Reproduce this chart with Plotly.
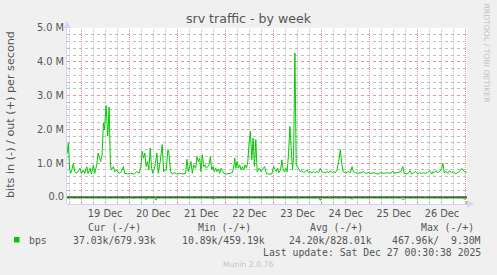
import math
import pandas as pd
import plotly.graph_objects as go

# ---------------- data ----------------
START = "2025-12-18 17:00"
END = "2025-12-27 00:30"

# outgoing traffic (+), hours after START -> Mbit/s
out_points = [
    (0.0, 1.28), (0.67, 1.59), (1.33, 0.80), (1.83, 0.70), (2.67, 0.85), (3.17, 1.00), (3.83, 0.75),
    (4.5, 0.70), (5.5, 0.75), (6.5, 0.85), (7.17, 0.70), (8.17, 0.80), (8.83, 0.70), (9.83, 0.90),
    (10.5, 0.70), (11.5, 0.85), (12.17, 0.68), (13.17, 0.95), (13.83, 0.70), (14.83, 0.95), (15.5, 1.30),
    (16.17, 1.15), (16.83, 1.05), (17.5, 1.25), (18.17, 2.19), (18.67, 2.00), (19.5, 2.70), (20.33, 1.80),
    (21.0, 2.66), (21.67, 0.95), (22.17, 0.80), (23.17, 0.90), (23.83, 0.75), (24.83, 0.80), (26.0, 0.70),
    (27.17, 0.75), (28.17, 0.90), (28.83, 0.70), (30.17, 0.68), (31.83, 0.70), (33.5, 0.68), (34.83, 0.75),
    (36.0, 0.70), (36.83, 0.90), (37.5, 1.35), (38.17, 1.15), (38.83, 1.30), (39.5, 0.90), (40.17, 1.05),
    (40.83, 0.80), (41.5, 1.45), (42.17, 0.85), (42.83, 0.70), (43.83, 0.90), (44.83, 1.30), (45.5, 0.70),
    (46.5, 1.05), (47.5, 1.55), (48.17, 0.75), (48.83, 0.80), (49.5, 0.80), (50.33, 1.40), (50.83, 1.30),
    (51.67, 0.75), (52.5, 0.68), (53.67, 0.72), (54.83, 0.68), (56.17, 0.70), (57.83, 0.68), (59.17, 0.70),
    (59.83, 1.12), (60.5, 0.75), (61.17, 0.90), (61.83, 1.05), (62.5, 0.70), (63.17, 0.95), (64.17, 0.85),
    (64.83, 1.20), (65.5, 1.05), (66.17, 1.15), (66.83, 0.75), (67.5, 1.25), (68.17, 0.90), (68.83, 0.95),
    (69.5, 0.85), (70.17, 0.90), (70.83, 0.95), (71.5, 1.20), (72.17, 0.80), (72.83, 0.90), (73.5, 0.75),
    (74.17, 0.85), (74.83, 0.75), (75.5, 0.82), (76.17, 0.70), (76.83, 0.85), (77.5, 0.75), (78.17, 0.70),
    (79.5, 0.68), (81.17, 0.70), (82.5, 0.72), (83.17, 0.90), (83.67, 1.15), (84.17, 0.85), (84.83, 1.05),
    (85.5, 0.85), (86.17, 0.95), (86.83, 0.80), (87.5, 0.90), (88.17, 0.80), (88.83, 0.95), (89.5, 0.85),
    (90.17, 1.05), (90.83, 1.60), (91.5, 1.94), (92.17, 1.10), (92.83, 1.74), (93.5, 0.90), (94.17, 1.70),
    (94.83, 0.75), (95.83, 0.85), (96.83, 0.75), (97.83, 0.85), (98.5, 0.90), (99.17, 0.75), (99.83, 0.68),
    (101.17, 0.68), (102.17, 0.68), (103.0, 0.90), (103.67, 0.80), (104.33, 0.75), (105.0, 0.85),
    (105.67, 0.72), (106.5, 0.80), (107.17, 1.10), (107.83, 0.80), (108.5, 0.75), (109.17, 0.85),
    (109.83, 0.75), (110.5, 1.30), (111.17, 2.09), (111.83, 1.40), (112.5, 0.80), (113.0, 1.20),
    (113.67, 4.26), (114.33, 0.95), (114.83, 0.90), (115.5, 0.80), (116.33, 0.75), (117.17, 0.78),
    (118.0, 0.72), (118.83, 0.75), (119.67, 0.80), (120.5, 0.72), (121.33, 0.75), (122.17, 0.72),
    (123.0, 0.75), (123.83, 0.72), (124.67, 0.75), (125.5, 0.72), (126.33, 0.85), (127.17, 0.75),
    (128.0, 0.72), (128.83, 0.72), (129.67, 0.75), (130.5, 0.72), (131.33, 0.78), (132.17, 0.72),
    (133.0, 0.75), (133.83, 0.72), (134.67, 0.80), (135.5, 1.05), (136.33, 1.40), (137.0, 1.00),
    (137.67, 0.75), (138.83, 0.72), (140.5, 0.75), (141.33, 0.72), (142.17, 0.90), (142.83, 0.75),
    (143.83, 0.72), (145.5, 0.70), (147.17, 0.72), (148.0, 0.75), (148.83, 0.70), (150.5, 0.72),
    (151.5, 0.70), (153.17, 0.72), (154.83, 0.68), (156.5, 0.72), (158.17, 0.70), (159.83, 0.72),
    (161.5, 0.70), (162.5, 0.77), (163.17, 0.70), (164.83, 0.72), (166.5, 0.75), (167.5, 0.90),
    (168.17, 0.70), (169.17, 0.68), (170.17, 0.70), (171.17, 0.78), (171.83, 0.68), (172.83, 0.72),
    (173.83, 0.75), (174.83, 0.68), (175.83, 0.72), (176.83, 0.70), (177.83, 0.72), (178.83, 0.70),
    (179.83, 0.72), (180.83, 0.78), (181.83, 0.68), (182.5, 0.75), (183.17, 0.72), (184.17, 0.78),
    (184.83, 0.72), (185.83, 0.75), (186.83, 0.85), (187.5, 1.00), (188.17, 0.72), (189.17, 0.75),
    (189.83, 0.70), (190.83, 0.78), (191.83, 0.72), (192.83, 0.75), (193.83, 0.68), (194.83, 0.72),
    (195.83, 0.75), (196.83, 0.85), (197.5, 0.78), (198.17, 0.75), (199.33, 0.72),
]

# incoming traffic (-), hours after START -> Mbit/s (drawn negative)
in_points = [
    (0, -0.03), (1.3, -0.03), (1.8, -0.045), (2.3, -0.03), (4.2, -0.03), (4.7, -0.045), (5.2, -0.03),
    (12.5, -0.03), (13.0, -0.05), (13.5, -0.03), (19.7, -0.03), (20.2, -0.06), (20.7, -0.03),
    (27.5, -0.03), (28.0, -0.05), (28.5, -0.03), (32.5, -0.03), (33.0, -0.06), (33.5, -0.03),
    (38.8, -0.03), (39.3, -0.08), (39.8, -0.03), (43.8, -0.03), (44.3, -0.09), (44.8, -0.03),
    (47.5, -0.03), (48.0, -0.05), (48.5, -0.03), (49.8, -0.03), (50.3, -0.05), (50.8, -0.03),
    (72.3, -0.03), (72.8, -0.06), (73.6, -0.05), (74.1, -0.03), (96.5, -0.03), (97.0, -0.06),
    (97.5, -0.03), (115.0, -0.03), (115.5, -0.06), (116.0, -0.03), (125.8, -0.03), (126.3, -0.10),
    (126.8, -0.03), (130.8, -0.03), (131.3, -0.06), (131.8, -0.03), (135.8, -0.03), (136.3, -0.06),
    (136.8, -0.03), (137.5, -0.03), (138.0, -0.05), (138.5, -0.03), (141.7, -0.03), (142.2, -0.07),
    (142.7, -0.03), (166.8, -0.03), (167.3, -0.07), (168.2, -0.06), (168.7, -0.03), (178.3, -0.03),
    (178.8, -0.05), (179.3, -0.03), (186.8, -0.03), (187.3, -0.06), (187.8, -0.03), (189.3, -0.03),
    (189.8, -0.06), (190.3, -0.03), (197.7, -0.03), (198.2, -0.07), (198.7, -0.03), (199.5, -0.04),
]

y_tick_vals = [0, 1, 2, 3, 4, 5]
y_tick_text = ["0.0", "1.0 M", "2.0 M", "3.0 M", "4.0 M", "5.0 M"]
y_minor_vals = [-0.2, 0.2, 0.4, 0.6, 0.8, 1.2, 1.4, 1.6, 1.8, 2.2, 2.4, 2.6, 2.8,
                3.2, 3.4, 3.6, 3.8, 4.2, 4.4, 4.6, 4.8]

legend_headers = ["Cur (-/+)", "Min (-/+)", "Avg (-/+)", "Max (-/+)"]
legend_values = ["37.03k/679.93k", "10.89k/459.19k", "24.20k/828.01k", "467.96k/\u00a0\u00a09.30M"]
series_name = "bps"
last_update = "Last update: Sat Dec 27 00:30:38 2025"

# ---------------- figure ----------------
W, H = 497, 275
L, R, T, B = 67, 467, 28, 204  # plot area in pixels
Y_RANGE = [-0.207, 5.0]

def px(x):
    return (x - L) / (R - L)

def py(y):
    return (B - y) / (B - T)

start = pd.Timestamp(START)
end = pd.Timestamp(END)
out_x = [start + pd.Timedelta(hours=h) for h, _ in out_points]
out_y = [v for _, v in out_points]
in_x = [start + pd.Timedelta(hours=h) for h, _ in in_points]
in_y = [v for _, v in in_points]

GREEN = "#00CC00"
FONT_C = "#555555"
AXIS_C = "#CFD6F8"
MGRID = "#E39494"
GRID = "#BEBEBE"
DASH = "1px,1px"

def snap(p):
    return math.floor(p) + 0.5

def vline_paper(t):
    p = L + (t - start) / (end - start) * (R - L)
    return px(snap(p))

fig = go.Figure()
fig.add_trace(go.Scatter(x=in_x, y=in_y, mode="lines", line=dict(color=GREEN, width=1),
                         showlegend=False, hoverinfo="skip"))
fig.add_trace(go.Scatter(x=out_x, y=out_y, mode="lines", line=dict(color=GREEN, width=1),
                         showlegend=False, hoverinfo="skip"))

shapes = []
# vertical grid: 6-hourly minor (grey), daily major (red)
for t in pd.date_range("2025-12-18 18:00", END, freq="6h"):
    major = (t.hour == 0)
    xp = vline_paper(t)
    shapes.append(dict(type="line", xref="paper", yref="paper", x0=xp, x1=xp, y0=0, y1=1, layer="below",
                       line=dict(color=MGRID if major else GRID, width=1, dash=DASH)))

shapes += [
    # zero line
    dict(type="line", xref="paper", yref="y", x0=0, x1=1, y0=0, y1=0,
         line=dict(color="#000000", width=1), layer="above"),
    # x axis arrow
    dict(type="path", xref="paper", yref="paper",
         path=f"M {px(467)} {py(200.5)} L {px(474)} {py(204)} L {px(467)} {py(207.5)} Z",
         fillcolor=AXIS_C, line=dict(color=AXIS_C, width=0)),
    # y axis arrow
    dict(type="path", xref="paper", yref="paper",
         path=f"M {px(63.5)} {py(28)} L {px(67)} {py(21)} L {px(70.5)} {py(28)} Z",
         fillcolor=AXIS_C, line=dict(color=AXIS_C, width=0)),
    # legend colour square
    dict(type="rect", xref="paper", yref="paper",
         x0=px(14), x1=px(19.5), y0=py(242.5), y1=py(237),
         fillcolor=GREEN, line=dict(width=0)),
]

mono = dict(family="DejaVu Sans Mono", size=9.8, color=FONT_C)
annotations = []
header_right = [143, 253, 365, 476]
value_right = [158, 267, 374, 483]
for txt, xr in zip(legend_headers, header_right):
    annotations.append(dict(text=txt, x=px(xr), y=py(227), xref="paper", yref="paper",
                            xanchor="right", yanchor="middle", showarrow=False, font=mono))
for txt, xr in zip(legend_values, value_right):
    annotations.append(dict(text=txt, x=px(xr), y=py(240), xref="paper", yref="paper",
                            xanchor="right", yanchor="middle", showarrow=False, font=mono))
annotations.append(dict(text=series_name, x=px(27), y=py(240), xref="paper", yref="paper",
                        xanchor="left", yanchor="middle", showarrow=False, font=mono))
annotations.append(dict(text=last_update, x=px(483), y=py(252), xref="paper", yref="paper",
                        xanchor="right", yanchor="middle", showarrow=False, font=mono))
annotations.append(dict(text="Munin 2.0.76", x=px(248), y=py(264), xref="paper", yref="paper",
                        xanchor="center", yanchor="middle", showarrow=False,
                        font=dict(family="DejaVu Sans", size=7.7, color="#C4C4C4")))
annotations.append(dict(text="RRDTOOL / TOBI OETIKER", x=px(486.5), y=py(53), xref="paper", yref="paper",
                        xanchor="center", yanchor="middle", showarrow=False, textangle=90,
                        font=dict(family="DejaVu Sans", size=7.7, color="#C4C4C4")))
annotations.append(dict(text="bits in (-) / out (+) per second", x=px(11), y=py(115),
                        xref="paper", yref="paper", xanchor="center", yanchor="middle",
                        showarrow=False, textangle=-90,
                        font=dict(family="DejaVu Sans", size=11.2, color=FONT_C)))

fig.update_layout(
    width=W, height=H,
    margin=dict(l=L, r=W - R, t=T, b=H - B),
    paper_bgcolor="#F0F0F0", plot_bgcolor="#FFFFFF",
    title=dict(text="srv traffic - by week", x=0.5, xref="container", xanchor="center",
               y=1 - 19 / H, yref="container", yanchor="middle",
               font=dict(family="DejaVu Sans", size=12.6, color=FONT_C)),
    xaxis=dict(
        type="date", range=[START, END],
        tick0="2025-12-19 00:00", dtick=86400000,
        tickformat="%d %b", ticklabelmode="period",
        showgrid=False,
        ticks="inside", ticklen=3, tickcolor=MGRID,
        minor=dict(dtick=6 * 3600000, showgrid=False, ticks="inside", ticklen=2, tickcolor=GRID),
        showline=True, linecolor=AXIS_C, zeroline=False,
        tickfont=dict(family="DejaVu Sans", size=9.8, color=FONT_C),
    ),
    yaxis=dict(
        range=Y_RANGE,
        tickmode="array", tickvals=y_tick_vals, ticktext=y_tick_text,
        showgrid=True, gridcolor=MGRID, griddash="dot",
        minor=dict(tickmode="array", tickvals=y_minor_vals, showgrid=True,
                   gridcolor=GRID, griddash="dot"),
        showline=True, linecolor=AXIS_C, zeroline=False,
        tickfont=dict(family="DejaVu Sans", size=9.8, color=FONT_C),
    ),
    shapes=shapes,
    annotations=annotations,
    showlegend=False,
)

fig.write_html("out.html", config={"displayModeBar": False})
